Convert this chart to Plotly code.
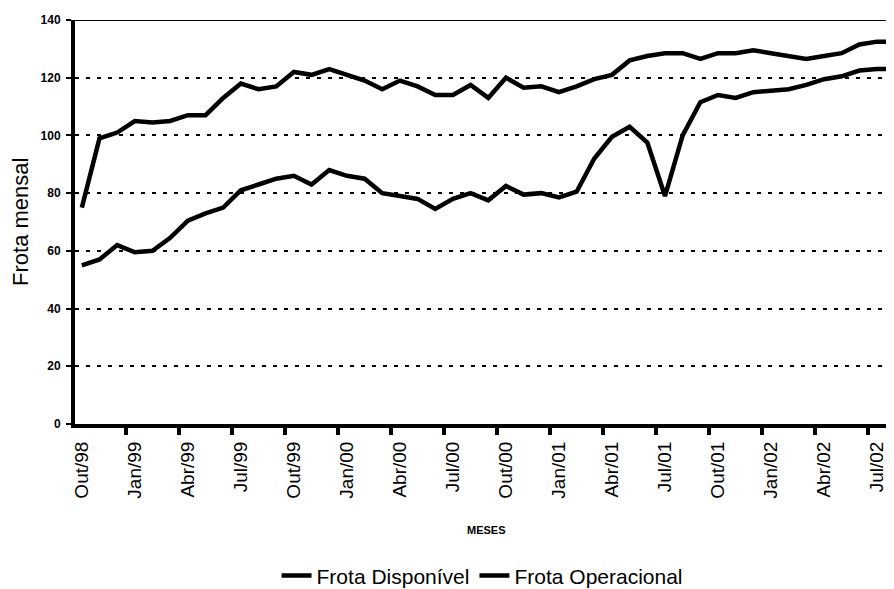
import plotly.graph_objects as go

months = ["Out/98", "Nov/98", "Dez/98", "Jan/99", "Fev/99", "Mar/99", "Abr/99", "Mai/99",
          "Jun/99", "Jul/99", "Ago/99", "Set/99", "Out/99", "Nov/99", "Dez/99", "Jan/00",
          "Fev/00", "Mar/00", "Abr/00", "Mai/00", "Jun/00", "Jul/00", "Ago/00", "Set/00",
          "Out/00", "Nov/00", "Dez/00", "Jan/01", "Fev/01", "Mar/01", "Abr/01", "Mai/01",
          "Jun/01", "Jul/01", "Ago/01", "Set/01", "Out/01", "Nov/01", "Dez/01", "Jan/02",
          "Fev/02", "Mar/02", "Abr/02", "Mai/02", "Jun/02", "Jul/02", "Ago/02"]

frota_disponivel = [75, 99, 101, 105, 104.5, 105, 107, 107,
                    113, 118, 116, 117, 122, 121, 123, 121,
                    119, 116, 119, 117, 114, 114, 117.5, 113,
                    120, 116.5, 117, 115, 117, 119.5, 121, 126,
                    127.5, 128.5, 128.5, 126.5, 128.5, 128.5, 129.5, 128.5,
                    127.5, 126.5, 127.5, 128.5, 131.5, 132.5, 132.5]

frota_operacional = [55, 57, 62, 59.5, 60, 64.5, 70.5, 73,
                     75, 81, 83, 85, 86, 83, 88, 86,
                     85, 80, 79, 78, 74.5, 78, 80, 77.5,
                     82.5, 79.5, 80, 78.5, 80.5, 92, 99.5, 103,
                     97.5, 79, 100, 111.5, 114, 113, 115, 115.5,
                     116, 117.5, 119.5, 120.5, 122.5, 123, 123]

y_ticks = [0, 20, 40, 60, 80, 100, 120, 140]
label_months = ("Jan", "Abr", "Jul", "Out")

x_idx = list(range(len(months)))
tick_idx = [i for i, m in enumerate(months) if m.split("/")[0] in label_months]
tick_text = [months[i] for i in tick_idx]

FONT = "Arial, Liberation Sans, sans-serif"

fig = go.Figure()
fig.add_trace(go.Scatter(x=x_idx, y=frota_disponivel, mode="lines", name="Frota Disponível",
                         line=dict(color="black", width=4.5)))
fig.add_trace(go.Scatter(x=x_idx, y=frota_operacional, mode="lines", name="Frota Operacional",
                         line=dict(color="black", width=4.5)))

# page body has an 8px margin, so the figure is 8px smaller and offset
fig.update_layout(
    width=886, height=581,
    margin=dict(l=67, r=0, t=12, b=165, autoexpand=False),
    paper_bgcolor="white", plot_bgcolor="white",
    font=dict(family=FONT, color="black"),
    showlegend=True,
    legend=dict(orientation="h", x=0.497, xanchor="center", y=-0.376, yanchor="middle",
                font=dict(size=21, family=FONT, color="black"), traceorder="normal",
                bgcolor="rgba(0,0,0,0)"),
    xaxis=dict(
        range=[-0.387, 45.96], automargin=False,
        tickmode="array", tickvals=tick_idx, ticktext=tick_text,
        tickangle=-90, ticks="", showgrid=False, zeroline=False,
        showline=True, linecolor="black", linewidth=4,
        tickfont=dict(family=FONT, size=19, color="black"),
        ticklabelstandoff=6,
        minor=dict(tickmode="array", tickvals=[i - 0.5 for i in tick_idx],
                   ticks="outside", ticklen=7, tickwidth=4, tickcolor="black",
                   showgrid=False),
    ),
    yaxis=dict(
        range=[0, 140], tickmode="array", tickvals=y_ticks, automargin=False,
        ticks="outside", ticklen=5, tickwidth=2, tickcolor="black",
        showline=True, linecolor="black", linewidth=4, zeroline=False,
        showgrid=True, gridcolor="black", gridwidth=2, griddash="4px,7px",
        ticklabelstandoff=3,
        tickfont=dict(family=FONT, size=12, color="black", weight="bold"),
    ),
    shapes=[dict(type="line", xref="paper", x0=0, x1=1, yref="y", y0=140, y1=140,
                 line=dict(color="black", width=2), layer="above")],
    annotations=[
        dict(text="Frota mensal", xref="paper", yref="paper", x=-0.0672, y=0.5,
             textangle=-90, showarrow=False, xanchor="center", yanchor="middle",
             font=dict(family=FONT, size=22, color="black")),
        dict(text="MESES", xref="paper", yref="paper", x=0.503, y=-0.262,
             showarrow=False, xanchor="center", yanchor="middle",
             font=dict(family=FONT, size=11, color="black", weight="bold")),
    ],
)

fig.write_html("out.html")
